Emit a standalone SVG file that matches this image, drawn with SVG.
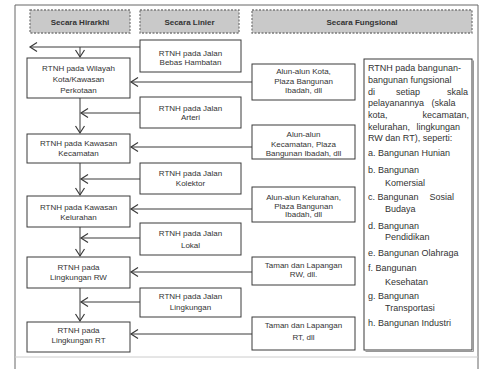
<svg xmlns="http://www.w3.org/2000/svg" width="480" height="369" viewBox="0 0 480 369">
<defs>
<style>
.bx{fill:#fff;stroke:#3a3a3a;stroke-width:1}
.hd{fill:#c9c9c9;stroke:#7a7a7a;stroke-width:1.3;stroke-dasharray:2 1.5}
.ht{font-family:"Liberation Sans",Arial,sans-serif;font-size:8px;font-weight:bold;fill:#333;text-anchor:middle}
.t{font-family:"Liberation Sans",Arial,sans-serif;font-size:8px;fill:#333;text-anchor:middle}
.r{font-family:"Liberation Sans",Arial,sans-serif;font-size:9px;fill:#333}
.e{text-anchor:end}
.ln{fill:none;stroke:#3a3a3a;stroke-width:1}
</style>
<marker id="ah" markerUnits="userSpaceOnUse" markerWidth="12" markerHeight="12" refX="8" refY="6" orient="auto">
<path d="M1,1.5 L8,6 L1,10.5" fill="none" stroke="#3a3a3a" stroke-width="1.2"/>
</marker>
</defs>
<rect x="0" y="0" width="480" height="369" fill="#fff"/>
<g id="frame">
<path d="M15,369 V5 H478 V369" fill="none" stroke="#666" stroke-width="1"/>
<line x1="15" y1="357" x2="478" y2="357" stroke="#ccc" stroke-width="1"/>
</g>
<g id="headers">
<g id="h1"><rect class="hd" x="30" y="10" width="100" height="23"/><text class="ht" x="80" y="24.5">Secara Hirarkhi</text></g>
<g id="h2"><rect class="hd" x="140" y="10" width="99" height="23"/><text class="ht" x="189.5" y="24.5">Secara Linier</text></g>
<g id="h3"><rect class="hd" x="252" y="10" width="220" height="23"/><text class="ht" x="362" y="24.5">Secara Fungsional</text></g>
</g>
<g id="connectors">
<line class="ln" x1="140" y1="47" x2="30" y2="47" marker-end="url(#ah)"/>
<line class="ln" x1="80" y1="47" x2="80" y2="57" marker-end="url(#ah)"/>
<line class="ln" x1="252" y1="82" x2="131" y2="82" marker-end="url(#ah)"/>
<line class="ln" x1="80" y1="98" x2="80" y2="133" marker-end="url(#ah)"/>
<line class="ln" x1="140" y1="113" x2="81" y2="113" marker-end="url(#ah)"/>
<line class="ln" x1="252" y1="147" x2="131" y2="147" marker-end="url(#ah)"/>
<line class="ln" x1="80" y1="163" x2="80" y2="195" marker-end="url(#ah)"/>
<line class="ln" x1="140" y1="179" x2="81" y2="179" marker-end="url(#ah)"/>
<line class="ln" x1="252" y1="209" x2="131" y2="209" marker-end="url(#ah)"/>
<line class="ln" x1="80" y1="227" x2="80" y2="256" marker-end="url(#ah)"/>
<line class="ln" x1="140" y1="238" x2="81" y2="238" marker-end="url(#ah)"/>
<line class="ln" x1="252" y1="272" x2="131" y2="272" marker-end="url(#ah)"/>
<line class="ln" x1="80" y1="288" x2="80" y2="321" marker-end="url(#ah)"/>
<line class="ln" x1="140" y1="302" x2="81" y2="302" marker-end="url(#ah)"/>
<line class="ln" x1="252" y1="334" x2="131" y2="334" marker-end="url(#ah)"/>
</g>
<g id="hir1"><rect class="bx" x="27" y="58" width="103" height="40"/><text class="t" x="78.5" y="71">RTNH pada Wilayah</text><text class="t" x="78.5" y="82">Kota/Kawasan</text><text class="t" x="78.5" y="93">Perkotaan</text></g>
<g id="hir2"><rect class="bx" x="27" y="134" width="103" height="29"/><text class="t" x="78.5" y="146">RTNH pada Kawasan</text><text class="t" x="78.5" y="156">Kecamatan</text></g>
<g id="hir3"><rect class="bx" x="27" y="196" width="103" height="31"/><text class="t" x="78.5" y="210">RTNH pada Kawasan</text><text class="t" x="78.5" y="220">Kelurahan</text></g>
<g id="hir4"><rect class="bx" x="27" y="257" width="103" height="31"/><text class="t" x="78.5" y="270">RTNH pada</text><text class="t" x="78.5" y="280">Lingkungan RW</text></g>
<g id="hir5"><rect class="bx" x="27" y="322" width="103" height="30"/><text class="t" x="78.5" y="333">RTNH pada</text><text class="t" x="78.5" y="343">Lingkungan RT</text></g>
<g id="lin1"><rect class="bx" x="140" y="40" width="101" height="32"/><text class="t" x="190.5" y="55.5">RTNH pada Jalan</text><text class="t" x="190.5" y="65">Bebas Hambatan</text></g>
<g id="lin2"><rect class="bx" x="140" y="97" width="101" height="31"/><text class="t" x="190.5" y="110.5">RTNH pada Jalan</text><text class="t" x="190.5" y="120">Arteri</text></g>
<g id="lin3"><rect class="bx" x="140" y="163" width="101" height="31"/><text class="t" x="190.5" y="176">RTNH pada Jalan</text><text class="t" x="190.5" y="186">Kolektor</text></g>
<g id="lin4"><rect class="bx" x="140" y="223" width="101" height="32"/><text class="t" x="190.5" y="236">RTNH pada Jalan</text><text class="t" x="190.5" y="247.5">Lokal</text></g>
<g id="lin5"><rect class="bx" x="140" y="288" width="101" height="29"/><text class="t" x="190.5" y="299">RTNH pada Jalan</text><text class="t" x="190.5" y="310">Lingkungan</text></g>
<g id="fun1"><rect class="bx" x="252" y="64" width="103" height="36"/><text class="t" x="303.5" y="74">Alun-alun Kota,</text><text class="t" x="303.5" y="83.5">Plaza Bangunan</text><text class="t" x="303.5" y="93">Ibadah, dll</text></g>
<g id="fun2"><rect class="bx" x="252" y="125" width="103" height="34"/><text class="t" x="303.5" y="137">Alun-alun</text><text class="t" x="303.5" y="147">Kecamatan, Plaza</text><text class="t" x="303.5" y="156">Bangunan Ibadah, dll</text></g>
<g id="fun3"><rect class="bx" x="252" y="187" width="103" height="35"/><text class="t" x="303.5" y="200">Alun-alun Kelurahan,</text><text class="t" x="303.5" y="208.5">Plaza Bangunan</text><text class="t" x="303.5" y="217">Ibadah, dll</text></g>
<g id="fun4"><rect class="bx" x="252" y="257" width="103" height="28"/><text class="t" x="303.5" y="268">Taman dan Lapangan</text><text class="t" x="303.5" y="276.5">RW, dll.</text></g>
<g id="fun5"><rect class="bx" x="252" y="317" width="103" height="33"/><text class="t" x="303.5" y="328">Taman dan Lapangan</text><text class="t" x="303.5" y="340">RT, dll</text></g>
<g id="fungsional-list">
<rect class="bx" x="364" y="59" width="108" height="291"/>
<path d="M473.5,60.5 V351.5 H365.5" fill="none" stroke="#999" stroke-width="1"/>
<text class="r" x="368" y="71">RTNH pada bangunan-</text>
<text class="r" x="368" y="83">bangunan fungsional</text>
<text class="r" x="368" y="95">di</text><text class="r" x="396" y="95">setiap</text><text class="r e" x="468" y="95">skala</text>
<text class="r" x="368" y="106" word-spacing="5">pelayanannya (skala</text>
<text class="r" x="368" y="118">kota,</text><text class="r e" x="469" y="118">kecamatan,</text>
<text class="r" x="368" y="130" word-spacing="4">kelurahan, lingkungan</text>
<text class="r" x="368" y="141">RW dan RT), seperti:</text>
<text class="r" x="368" y="156">a. Bangunan Hunian</text>
<text class="r" x="368" y="173">b. Bangunan</text>
<text class="r" x="385" y="186">Komersial</text>
<text class="r" x="368" y="200">c. Bangunan</text><text class="r e" x="454" y="200">Sosial</text>
<text class="r" x="385" y="212">Budaya</text>
<text class="r" x="368" y="229">d. Bangunan</text>
<text class="r" x="385" y="240">Pendidikan</text>
<text class="r" x="368" y="256">e. Bangunan Olahraga</text>
<text class="r" x="368" y="271">f. Bangunan</text>
<text class="r" x="385" y="285">Kesehatan</text>
<text class="r" x="368" y="299">g. Bangunan</text>
<text class="r" x="385" y="311">Transportasi</text>
<text class="r" x="368" y="326">h. Bangunan Industri</text>
</g>
</svg>
